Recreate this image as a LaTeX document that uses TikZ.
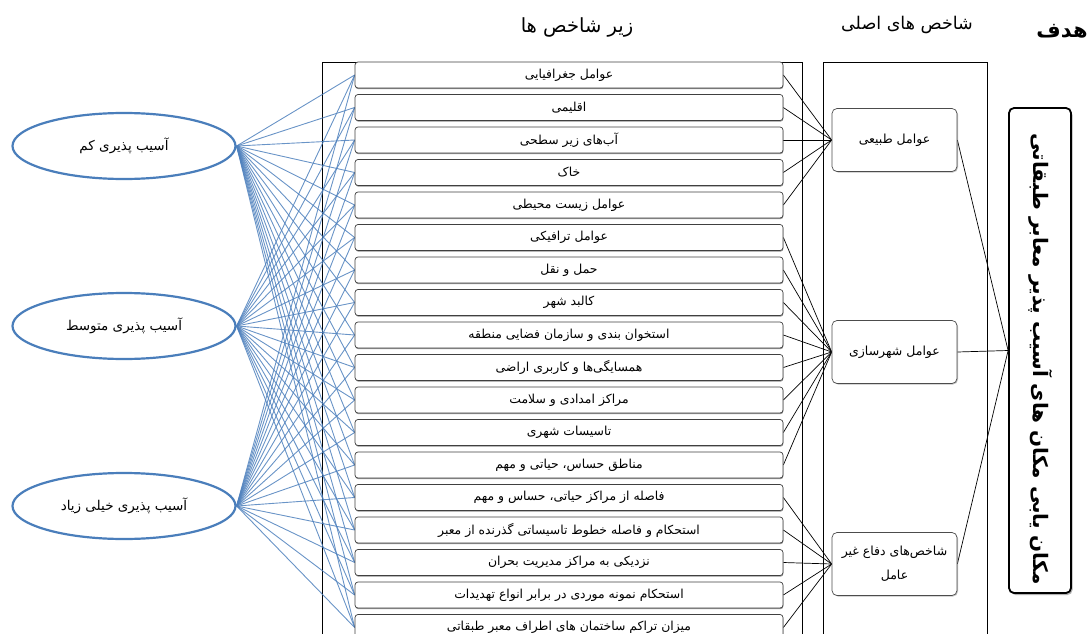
\documentclass[tikz,border=0pt]{standalone}
\usepackage{fontspec}
\newfontfamily\ar[Script=Arabic]{DejaVu Sans}
\TeXXeTstate=1
\usetikzlibrary{shapes.geometric,shadows,backgrounds}
\newcommand\myR[1]{\beginR #1\endR}
\definecolor{ellblue}{RGB}{74,126,187}
\definecolor{lineblue}{RGB}{79,129,189}
\begin{document}
\begin{tikzpicture}[x=1pt,y=-1pt,
  sub/.style={draw=black!75, fill=white, rounded corners=3pt, minimum width=428pt, minimum height=26pt, inner sep=0pt,
    font=\ar\fontsize{12.4}{14}\selectfont, line width=0.7pt,
    drop shadow={shadow xshift=0.4pt, shadow yshift=-1.2pt, opacity=0.6, fill=black!70}},
  mainbox/.style={draw=black!70, fill=white, rounded corners=5pt, minimum width=125pt, minimum height=63pt, inner sep=2pt,
    font=\ar\fontsize{12.5}{24}\selectfont, align=center, line width=0.7pt,
    drop shadow={shadow xshift=1pt, shadow yshift=-1pt, opacity=0.4, fill=black!60}},
  goalbox/.style={draw=black, fill=white, rounded corners=5pt, minimum width=62pt, minimum height=485pt, inner sep=0pt,
    line width=1.8pt, drop shadow={shadow xshift=1.5pt, shadow yshift=-2pt, opacity=0.5, fill=black!60}},
  ell/.style={ellipse, draw=ellblue, line width=2.2pt, fill=white, minimum width=223pt, minimum height=66pt, inner sep=0pt,
    font=\ar\fontsize{13.5}{15}\selectfont},
  blueline/.style={draw=lineblue, line width=0.9pt, opacity=0.85},
  blackline/.style={draw=black, line width=0.7pt},
  container/.style={draw=black, line width=0.8pt},
  head/.style={inner sep=0pt}
]
\useasboundingbox (0,0) rectangle (1090,634);
\clip (0,0) rectangle (1090,634);

% headers
\node[head, font=\ar\fontsize{19.5}{22}\selectfont] (h1) at (577,27) {\myR{زیر شاخص ها}};
\node[head, font=\ar\fontsize{17.5}{20}\selectfont] (h2) at (907,25) {\myR{شاخص های اصلی}};
\node[head, font=\ar\bfseries\fontsize{21}{24}\selectfont] (h3) at (1062,31) {\myR{هدف}};

% sub-index boxes
\foreach \i/\t in {
  1/{عوامل جغرافیایی},
  2/{اقلیمی},
  3/{آب‌های زیر سطحی},
  4/{خاک},
  5/{عوامل زیست محیطی},
  6/{عوامل ترافیکی},
  7/{حمل و نقل},
  8/{کالبد شهر},
  9/{استخوان بندی و سازمان فضایی منطقه},
  10/{همسایگی‌ها و کاربری اراضی},
  11/{مراکز امدادی و سلامت},
  12/{تاسیسات شهری},
  13/{مناطق حساس، حیاتی و مهم},
  14/{فاصله از مراکز حیاتی، حساس و مهم},
  15/{استحکام و فاصله خطوط تاسیساتی گذرنده از معبر},
  16/{نزدیکی به مراکز مدیریت بحران},
  17/{استحکام نمونه موردی در برابر انواع تهدیدات},
  18/{میزان تراکم ساختمان های اطراف معبر طبقاتی}}{
  \node[sub] (s\i) at (569,{75+(\i-1)*32.5}) {\myR{\t}};
}

% main indices
\node[mainbox] (m1) at (894.5,140) {\myR{عوامل طبیعی}};
\node[mainbox] (m2) at (894.5,352) {\myR{عوامل شهرسازی}};
\node[mainbox] (m3) at (894.5,564) {\myR{شاخص‌های دفاع غیر}\\\myR{عامل}};

% goal
\node[goalbox] (g) at (1040,350.5) {};
\node[rotate=-90, font=\ar\bfseries\fontsize{20}{24}\selectfont, inner sep=0pt] (gt) at (1041,359) {\myR{مکان یابی مکان های آسیب پذیر معابر طبقاتی}};

% ellipses
\node[ell] (e1) at (124,146) {\myR{آسیب پذیری کم}};
\node[ell] (e2) at (124,326) {\myR{آسیب پذیری متوسط}};
\node[ell] (e3) at (124,506) {\myR{آسیب پذیری خیلی زیاد}};

\begin{scope}[on background layer]
  \draw[container] (322,62) rectangle (802,660);
  \draw[container] (823,62) rectangle (987,660);
  \foreach \e in {e1,e2,e3}{
    \foreach \i in {1,...,18}{
      \draw[blueline] (\e.east) -- (s\i.west);
    }
  }
  \foreach \i in {1,...,5}{\draw[blackline] (s\i.east) -- (m1.west);}
  \foreach \i in {6,...,13}{\draw[blackline] (s\i.east) -- (m2.west);}
  \foreach \i in {14,...,18}{\draw[blackline] (s\i.east) -- (m3.west);}
  \foreach \m in {m1,m2,m3}{\draw[blackline] (\m.east) -- (g.west);}
\end{scope}
\end{tikzpicture}
\end{document}
